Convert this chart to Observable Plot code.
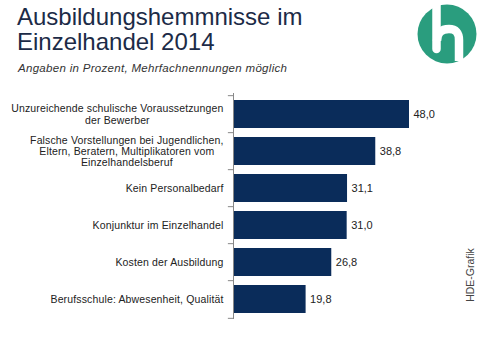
<!DOCTYPE html>
<html>
<head>
<meta charset="utf-8">
<script src="https://cdn.jsdelivr.net/npm/d3@7"></script>
<script src="https://cdn.jsdelivr.net/npm/@observablehq/plot@0.6"></script>
<style>
  html, body { margin: 0; padding: 0; background: #fff; }
  #wrap { position: relative; width: 480px; height: 360px; overflow: hidden; font-family: "Liberation Sans", Arial, sans-serif; }
  #title { position: absolute; left: 17px; top: 4px; font-size: 24px; line-height: 25px; color: #1c2b47; }
  #subtitle { position: absolute; left: 18px; top: 62px; font-size: 11.5px; letter-spacing: 0.3px; font-style: italic; color: #333; }
  #logo { position: absolute; left: 0; top: 0; }
  #credit { position: absolute; left: 470px; top: 275px; transform: translate(-50%, -50%) rotate(-90deg); font-size: 10.5px; color: #444; white-space: nowrap; }
  #chart { position: absolute; left: 0; top: 85px; }
  #chart g[aria-label="y-axis tick label"] text { letter-spacing: 0.14px; }
</style>
</head>
<body>
<div id="wrap">
  <div id="title">Ausbildungshemmnisse im<br>Einzelhandel 2014</div>
  <div id="subtitle">Angaben in Prozent, Mehrfachnennungen möglich</div>
  <svg id="logo" width="480" height="80">
    <circle cx="447" cy="34" r="29.5" fill="#2a9d7e"></circle>
    <path d="M436.5,2 V49" stroke="#fff" stroke-width="8.5" stroke-linecap="round" fill="none"></path>
    <path d="M437,41 Q437,29 449,29 Q459,29 459,40 V61" stroke="#fff" stroke-width="8.5" fill="none"></path>
  </svg>
  <div id="credit">HDE-Grafik</div>
  <div id="chart"></div>
</div>
<script>
const categories = [
  "Unzureichende schulische Voraussetzungen\nder Bewerber",
  "Falsche Vorstellungen bei Jugendlichen,\nEltern, Beratern, Multiplikatoren vom\nEinzelhandelsberuf",
  "Kein Personalbedarf",
  "Konjunktur im Einzelhandel",
  "Kosten der Ausbildung",
  "Berufsschule: Abwesenheit, Qualität"
];
const values = [48.0, 38.8, 31.1, 31.0, 26.8, 19.8];

const data = categories.map((c, i) => ({category: c, value: values[i]}));
const fmt = v => v.toFixed(1).replace(".", ",");

const H = 275, mt = 8, mb = 41;
const step = (H - mt - mb) / categories.length;

const chart = Plot.plot({
  width: 480,
  height: H,
  marginLeft: 233,
  marginRight: 27,
  marginTop: mt,
  marginBottom: mb,
  style: {fontFamily: "Liberation Sans, Arial, sans-serif", background: "transparent"},
  x: {domain: [0, 60], axis: null},
  y: {domain: categories, paddingInner: 0.25, paddingOuter: 0.125, label: null},
  marks: [
    Plot.barX(data, {x: "value", y: "category", fill: "#0a2c5a"}),
    Plot.text(data, {x: "value", y: "category", text: d => fmt(d.value), textAnchor: "start", dx: 4, fontSize: 11, fill: "#222"}),
    Plot.axisY({tickSize: 0, tickPadding: 10, fontSize: 10.5, lineHeight: 1.08, fill: "#222", label: null}),
    Plot.ruleX([0], {stroke: "#888"}),
    Plot.ruleY(categories, {y: d => d, x1: -1.4, x2: 0, dy: -step / 2, stroke: "#888"}),
    Plot.ruleY(categories.slice(-1), {y: d => d, x1: -1.4, x2: 0, dy: step / 2, stroke: "#888"})
  ]
});
document.getElementById("chart").appendChild(chart);

// Center the lines of multi-line labels within their right-aligned block
const ctx = document.createElement("canvas").getContext("2d");
ctx.font = "10.5px 'Liberation Sans'";
const measure = s => ctx.measureText(s).width + 0.14 * s.length;
chart.querySelectorAll('g[aria-label="y-axis tick label"] text').forEach(t => {
  const spans = Array.from(t.querySelectorAll("tspan"));
  if (spans.length < 2) return;
  const widths = spans.map(s => measure(s.textContent));
  const maxW = Math.max(...widths);
  spans.forEach((s, i) => {
    s.setAttribute("x", -(maxW - widths[i]) / 2);
  });
});
</script>
</body>
</html>
